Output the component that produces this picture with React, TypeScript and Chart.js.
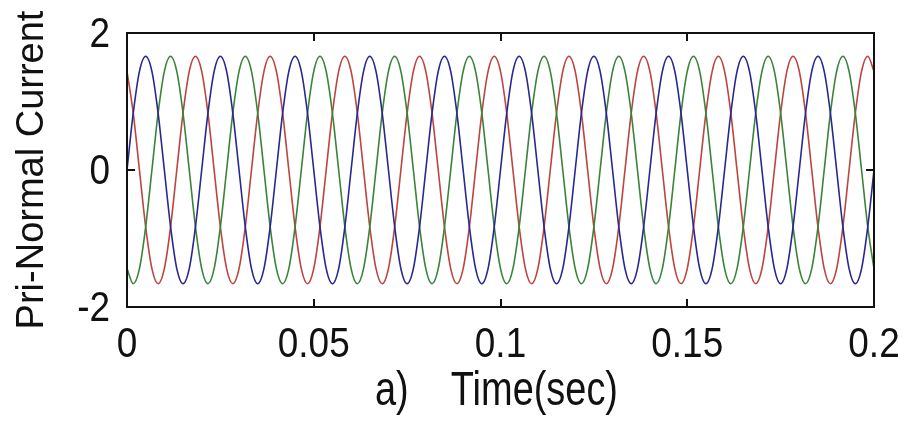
import { useEffect, useRef } from 'react';
import { Chart, registerables } from 'chart.js';

Chart.register(...registerables);

// Sample times (s), 12 samples per 50 Hz cycle
const TIME = [
  0, 0.00167, 0.00333, 0.005, 0.00667, 0.00833, 0.01, 0.01167, 0.01333, 0.015, 0.01667, 0.01833,
  0.02, 0.02167, 0.02333, 0.025, 0.02667, 0.02833, 0.03, 0.03167, 0.03333, 0.035, 0.03667, 0.03833,
  0.04, 0.04167, 0.04333, 0.045, 0.04667, 0.04833, 0.05, 0.05167, 0.05333, 0.055, 0.05667, 0.05833,
  0.06, 0.06167, 0.06333, 0.065, 0.06667, 0.06833, 0.07, 0.07167, 0.07333, 0.075, 0.07667, 0.07833,
  0.08, 0.08167, 0.08333, 0.085, 0.08667, 0.08833, 0.09, 0.09167, 0.09333, 0.095, 0.09667, 0.09833,
  0.1, 0.10167, 0.10333, 0.105, 0.10667, 0.10833, 0.11, 0.11167, 0.11333, 0.115, 0.11667, 0.11833,
  0.12, 0.12167, 0.12333, 0.125, 0.12667, 0.12833, 0.13, 0.13167, 0.13333, 0.135, 0.13667, 0.13833,
  0.14, 0.14167, 0.14333, 0.145, 0.14667, 0.14833, 0.15, 0.15167, 0.15333, 0.155, 0.15667, 0.15833,
  0.16, 0.16167, 0.16333, 0.165, 0.16667, 0.16833, 0.17, 0.17167, 0.17333, 0.175, 0.17667, 0.17833,
  0.18, 0.18167, 0.18333, 0.185, 0.18667, 0.18833, 0.19, 0.19167, 0.19333, 0.195, 0.19667, 0.19833,
  0.2,
];

// Phase currents (normalised)
const PHASE_BLUE = [
  0, 0.83, 1.44, 1.66, 1.44, 0.83, 0, -0.83, -1.44, -1.66, -1.44, -0.83,
  0, 0.83, 1.44, 1.66, 1.44, 0.83, 0, -0.83, -1.44, -1.66, -1.44, -0.83,
  0, 0.83, 1.44, 1.66, 1.44, 0.83, 0, -0.83, -1.44, -1.66, -1.44, -0.83,
  0, 0.83, 1.44, 1.66, 1.44, 0.83, 0, -0.83, -1.44, -1.66, -1.44, -0.83,
  0, 0.83, 1.44, 1.66, 1.44, 0.83, 0, -0.83, -1.44, -1.66, -1.44, -0.83,
  0, 0.83, 1.44, 1.66, 1.44, 0.83, 0, -0.83, -1.44, -1.66, -1.44, -0.83,
  0, 0.83, 1.44, 1.66, 1.44, 0.83, 0, -0.83, -1.44, -1.66, -1.44, -0.83,
  0, 0.83, 1.44, 1.66, 1.44, 0.83, 0, -0.83, -1.44, -1.66, -1.44, -0.83,
  0, 0.83, 1.44, 1.66, 1.44, 0.83, 0, -0.83, -1.44, -1.66, -1.44, -0.83,
  0, 0.83, 1.44, 1.66, 1.44, 0.83, 0, -0.83, -1.44, -1.66, -1.44, -0.83,
  0,
];

const PHASE_GREEN = [
  -1.44, -1.66, -1.44, -0.83, 0, 0.83, 1.44, 1.66, 1.44, 0.83, 0, -0.83,
  -1.44, -1.66, -1.44, -0.83, 0, 0.83, 1.44, 1.66, 1.44, 0.83, 0, -0.83,
  -1.44, -1.66, -1.44, -0.83, 0, 0.83, 1.44, 1.66, 1.44, 0.83, 0, -0.83,
  -1.44, -1.66, -1.44, -0.83, 0, 0.83, 1.44, 1.66, 1.44, 0.83, 0, -0.83,
  -1.44, -1.66, -1.44, -0.83, 0, 0.83, 1.44, 1.66, 1.44, 0.83, 0, -0.83,
  -1.44, -1.66, -1.44, -0.83, 0, 0.83, 1.44, 1.66, 1.44, 0.83, 0, -0.83,
  -1.44, -1.66, -1.44, -0.83, 0, 0.83, 1.44, 1.66, 1.44, 0.83, 0, -0.83,
  -1.44, -1.66, -1.44, -0.83, 0, 0.83, 1.44, 1.66, 1.44, 0.83, 0, -0.83,
  -1.44, -1.66, -1.44, -0.83, 0, 0.83, 1.44, 1.66, 1.44, 0.83, 0, -0.83,
  -1.44, -1.66, -1.44, -0.83, 0, 0.83, 1.44, 1.66, 1.44, 0.83, 0, -0.83,
  -1.44,
];

const PHASE_RED = [
  1.44, 0.83, 0, -0.83, -1.44, -1.66, -1.44, -0.83, 0, 0.83, 1.44, 1.66,
  1.44, 0.83, 0, -0.83, -1.44, -1.66, -1.44, -0.83, 0, 0.83, 1.44, 1.66,
  1.44, 0.83, 0, -0.83, -1.44, -1.66, -1.44, -0.83, 0, 0.83, 1.44, 1.66,
  1.44, 0.83, 0, -0.83, -1.44, -1.66, -1.44, -0.83, 0, 0.83, 1.44, 1.66,
  1.44, 0.83, 0, -0.83, -1.44, -1.66, -1.44, -0.83, 0, 0.83, 1.44, 1.66,
  1.44, 0.83, 0, -0.83, -1.44, -1.66, -1.44, -0.83, 0, 0.83, 1.44, 1.66,
  1.44, 0.83, 0, -0.83, -1.44, -1.66, -1.44, -0.83, 0, 0.83, 1.44, 1.66,
  1.44, 0.83, 0, -0.83, -1.44, -1.66, -1.44, -0.83, 0, 0.83, 1.44, 1.66,
  1.44, 0.83, 0, -0.83, -1.44, -1.66, -1.44, -0.83, 0, 0.83, 1.44, 1.66,
  1.44, 0.83, 0, -0.83, -1.44, -1.66, -1.44, -0.83, 0, 0.83, 1.44, 1.66,
  1.44,
];

const X_TICKS = [0, 0.05, 0.1, 0.15, 0.2];
const X_TICK_LABELS = ['0', '0.05', '0.1', '0.15', '0.2'];
const Y_TICKS = [-2, 0, 2];
const Y_TICK_LABELS = ['-2', '0', '2'];
const X_TITLE = 'a)    Time(sec)';
const Y_TITLE = 'Pri-Normal Current';

const FONT = "'Liberation Sans', Arial, sans-serif";

const framePlugin = {
  id: 'matlabFrame',
  afterDatasetsDraw(chart: any) {
    const { ctx, chartArea: a, scales } = chart;
    ctx.save();
    ctx.strokeStyle = '#111';
    ctx.lineWidth = 2;
    ctx.strokeRect(a.left, a.top, a.right - a.left, a.bottom - a.top);
    const tl = 8;
    ctx.beginPath();
    X_TICKS.forEach((v) => {
      const x = Math.round(scales.x.getPixelForValue(v));
      ctx.moveTo(x, a.bottom);
      ctx.lineTo(x, a.bottom - tl);
      ctx.moveTo(x, a.top);
      ctx.lineTo(x, a.top + tl);
    });
    Y_TICKS.forEach((v) => {
      const y = Math.round(scales.y.getPixelForValue(v));
      ctx.moveTo(a.left, y);
      ctx.lineTo(a.left + tl, y);
      ctx.moveTo(a.right, y);
      ctx.lineTo(a.right - tl, y);
    });
    ctx.stroke();
    ctx.restore();

    ctx.fillStyle = '#111';
    // condensed tick labels (as in the reference)
    ctx.font = `42px ${FONT}`;
    ctx.textBaseline = 'alphabetic';
    X_TICKS.forEach((v, i) => {
      const x = scales.x.getPixelForValue(v);
      ctx.save();
      ctx.translate(x, a.bottom + 50);
      ctx.scale(0.88, 1);
      ctx.textAlign = 'center';
      ctx.fillText(X_TICK_LABELS[i], 0, 0);
      ctx.restore();
    });
    Y_TICKS.forEach((v, i) => {
      const y = scales.y.getPixelForValue(v);
      ctx.save();
      ctx.translate(a.left - 17, y + 14);
      ctx.scale(0.88, 1);
      ctx.textAlign = 'right';
      ctx.fillText(Y_TICK_LABELS[i], 0, 0);
      ctx.restore();
    });

    // condensed x-axis title
    ctx.save();
    ctx.translate((a.left + a.right) / 2 - 4, 405);
    ctx.scale(0.79, 1);
    ctx.font = `48px ${FONT}`;
    ctx.textAlign = 'center';
    ctx.textBaseline = 'alphabetic';
    ctx.fillText(X_TITLE, 0, 0);
    ctx.restore();
  },
};

export default function App() {
  const ref = useRef<HTMLCanvasElement | null>(null);

  useEffect(() => {
    if (!ref.current) return;
    const mk = (vals: number[]) => TIME.map((t, i) => ({ x: t, y: vals[i] }));
    const ds = (label: string, vals: number[], color: string) => ({
      label,
      data: mk(vals),
      borderColor: color,
      backgroundColor: color,
      borderWidth: 1.6,
      pointRadius: 0,
      fill: false,
      cubicInterpolationMode: 'monotone' as const,
    });
    const chart = new Chart(ref.current, {
      type: 'line',
      data: {
        datasets: [
          ds('Phase A', PHASE_BLUE, '#28288e'),
          ds('Phase B', PHASE_GREEN, '#3a843a'),
          ds('Phase C', PHASE_RED, '#bb4540'),
        ],
      },
      options: {
        responsive: false,
        animation: false,
        layout: { padding: { left: 0, right: 42, top: 33, bottom: 0 } },
        plugins: { legend: { display: false }, tooltip: { enabled: false } },
        scales: {
          x: {
            type: 'linear',
            min: 0,
            max: 0.2,
            afterBuildTicks: (s: any) => {
              s.ticks = X_TICKS.map((v) => ({ value: v }));
            },
            afterFit: (s: any) => {
              s.height = 121;
            },
            grid: { display: false, drawTicks: false },
            border: { display: false },
            ticks: { display: false },
            title: { display: false },
          },
          y: {
            type: 'linear',
            min: -2,
            max: 2,
            afterBuildTicks: (s: any) => {
              s.ticks = Y_TICKS.map((v) => ({ value: v }));
            },
            afterFit: (s: any) => {
              s.width = 127;
            },
            grid: { display: false, drawTicks: false },
            border: { display: false },
            ticks: { display: false },
            title: {
              display: true,
              text: Y_TITLE,
              color: '#111',
              font: { family: FONT, size: 38 },
              padding: { top: 10, bottom: 0 },
            },
          },
        },
      },
      plugins: [framePlugin],
    });
    return () => chart.destroy();
  }, []);

  return (
    <div style={{ position: 'absolute', left: 0, top: 0, width: 916, height: 428, background: '#fff' }}>
      <canvas ref={ref} width={916} height={428} />
    </div>
  );
}
